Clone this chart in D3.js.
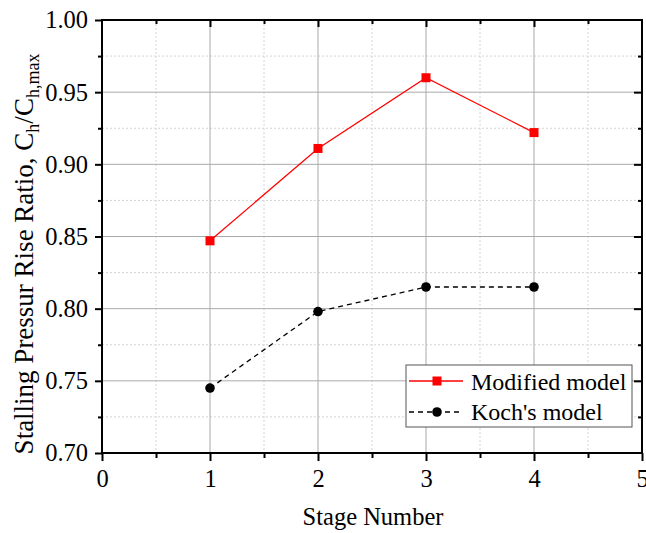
<!DOCTYPE html>
<html>
<head>
<meta charset="utf-8">
<script src="https://cdn.jsdelivr.net/npm/d3@7"></script>
<style>
  body { margin: 0; background: #fff; }
</style>
</head>
<body>
<svg id="chart" width="646" height="533" font-family="Liberation Serif"></svg>
<script>
// Stage numbers and stalling pressure rise ratios for the two models
const stages = [1, 2, 3, 4];
const modifiedModel = [0.847, 0.911, 0.960, 0.922];
const kochModel = [0.745, 0.798, 0.815, 0.815];
const xTicks = [0, 1, 2, 3, 4, 5];
const yTicks = [0.70, 0.75, 0.80, 0.85, 0.90, 0.95, 1.00];
const seriesNames = ["Modified model", "Koch's model"];

const FONT = "Liberation Serif";
const svg = d3.select("#chart");
const m = { left: 102, right: 642, top: 20, bottom: 453 };

const x = d3.scaleLinear().domain([0, 5]).range([m.left, m.right]);
const y = d3.scaleLinear().domain([0.70, 1.00]).range([m.bottom, m.top]);

const xMinor = d3.range(0.5, 5, 1);
const yMinor = d3.range(0.725, 1.0, 0.05);

// grid: dotted minor, solid major
const grid = svg.append("g");
xMinor.forEach(v => grid.append("line")
  .attr("x1", x(v)).attr("x2", x(v)).attr("y1", m.top).attr("y2", m.bottom)
  .attr("stroke", "#d4d4d4").attr("stroke-dasharray", "2,2"));
yMinor.forEach(v => grid.append("line")
  .attr("x1", m.left).attr("x2", m.right).attr("y1", y(v)).attr("y2", y(v))
  .attr("stroke", "#d4d4d4").attr("stroke-dasharray", "2,2"));
xTicks.slice(1, -1).forEach(v => grid.append("line")
  .attr("x1", x(v)).attr("x2", x(v)).attr("y1", m.top).attr("y2", m.bottom)
  .attr("stroke", "#aaaaaa").attr("stroke-width", 1));
yTicks.slice(1, -1).forEach(v => grid.append("line")
  .attr("x1", m.left).attr("x2", m.right).attr("y1", y(v)).attr("y2", y(v))
  .attr("stroke", "#aaaaaa").attr("stroke-width", 1));

// bottom axis (outward ticks) with labels
const xAxis = svg.append("g").attr("transform", `translate(0,${m.bottom})`)
  .call(d3.axisBottom(x).tickValues(xTicks).tickFormat(d3.format("d")).tickSize(8).tickSizeOuter(0));
xAxis.attr("font-family", FONT);
xAxis.select(".domain").remove();
xAxis.selectAll(".tick line").attr("stroke-width", 2);
xAxis.selectAll(".tick text").attr("font-size", 24.5).attr("font-family", FONT)
  .attr("fill", "#000").attr("dy", null).attr("y", 34);
svg.append("g").attr("transform", `translate(0,${m.bottom})`)
  .call(d3.axisBottom(x).tickValues(xMinor).tickFormat("").tickSize(5).tickSizeOuter(0))
  .call(g => { g.select(".domain").remove(); g.selectAll("line").attr("stroke-width", 2); });

// left axis (outward ticks)
const yAxis = svg.append("g").attr("transform", `translate(${m.left},0)`)
  .call(d3.axisLeft(y).tickValues(yTicks).tickFormat(d3.format(".2f")).tickSize(7).tickSizeOuter(0));
yAxis.attr("font-family", FONT);
yAxis.select(".domain").remove();
yAxis.selectAll(".tick line").attr("stroke-width", 2);
yAxis.selectAll(".tick text").attr("font-size", 24.5).attr("font-family", FONT)
  .attr("fill", "#000").attr("x", -14);
svg.append("g").attr("transform", `translate(${m.left},0)`)
  .call(d3.axisLeft(y).tickValues(yMinor).tickFormat("").tickSize(4).tickSizeOuter(0))
  .call(g => { g.select(".domain").remove(); g.selectAll("line").attr("stroke-width", 2); });

// top axis (inward ticks)
svg.append("g").attr("transform", `translate(0,${m.top})`)
  .call(d3.axisBottom(x).tickValues(xTicks.slice(1, -1)).tickFormat("").tickSize(7).tickSizeOuter(0))
  .call(g => { g.select(".domain").remove(); g.selectAll("line").attr("stroke-width", 2); });
svg.append("g").attr("transform", `translate(0,${m.top})`)
  .call(d3.axisBottom(x).tickValues(xMinor).tickFormat("").tickSize(4).tickSizeOuter(0))
  .call(g => { g.select(".domain").remove(); g.selectAll("line").attr("stroke-width", 2); });

// right axis (inward ticks)
svg.append("g").attr("transform", `translate(${m.right},0)`)
  .call(d3.axisLeft(y).tickValues(yTicks.slice(1, -1)).tickFormat("").tickSize(8).tickSizeOuter(0))
  .call(g => { g.select(".domain").remove(); g.selectAll("line").attr("stroke-width", 2); });
svg.append("g").attr("transform", `translate(${m.right},0)`)
  .call(d3.axisLeft(y).tickValues(yMinor).tickFormat("").tickSize(4).tickSizeOuter(0))
  .call(g => { g.select(".domain").remove(); g.selectAll("line").attr("stroke-width", 2); });

// frame
svg.append("rect").attr("x", m.left).attr("y", m.top)
  .attr("width", m.right - m.left).attr("height", m.bottom - m.top)
  .attr("fill", "none").attr("stroke", "#000").attr("stroke-width", 2);

// series
const line = d3.line().x((d, i) => x(stages[i])).y(d => y(d));
svg.append("path").datum(modifiedModel).attr("d", line)
  .attr("fill", "none").attr("stroke", "#ff0000").attr("stroke-width", 1.3);
svg.append("path").datum(kochModel).attr("d", line)
  .attr("fill", "none").attr("stroke", "#000").attr("stroke-width", 1.3)
  .attr("stroke-dasharray", "5,4");

svg.selectAll(".sq").data(modifiedModel).enter().append("rect")
  .attr("x", (d, i) => x(stages[i]) - 4.5).attr("y", d => y(d) - 4.5)
  .attr("width", 9).attr("height", 9).attr("fill", "#ff0000");
svg.selectAll(".dot").data(kochModel).enter().append("circle")
  .attr("cx", (d, i) => x(stages[i])).attr("cy", d => y(d)).attr("r", 4.8)
  .attr("fill", "#000");

// legend
const lg = svg.append("g");
lg.append("rect").attr("x", 406).attr("y", 365).attr("width", 226).attr("height", 62)
  .attr("fill", "#fff").attr("stroke", "#555").attr("stroke-width", 1);
lg.append("line").attr("x1", 409).attr("x2", 463).attr("y1", 381).attr("y2", 381)
  .attr("stroke", "#ff0000").attr("stroke-width", 1.3);
lg.append("rect").attr("x", 432.5).attr("y", 376.5).attr("width", 9).attr("height", 9).attr("fill", "#ff0000");
lg.append("line").attr("x1", 409).attr("x2", 463).attr("y1", 412).attr("y2", 412)
  .attr("stroke", "#000").attr("stroke-width", 1.3).attr("stroke-dasharray", "5,4");
lg.append("circle").attr("cx", 437).attr("cy", 412).attr("r", 4.8).attr("fill", "#000");
lg.append("text").attr("x", 471).attr("y", 390).attr("font-size", 24).attr("font-family", FONT).text(seriesNames[0]);
lg.append("text").attr("x", 471).attr("y", 420).attr("font-size", 24).attr("font-family", FONT).text(seriesNames[1]);

// axis titles
svg.append("text").attr("x", 373).attr("y", 525)
  .attr("text-anchor", "middle").attr("font-size", 24.5).attr("font-family", FONT).text("Stage Number");

const yt = svg.append("text").attr("transform", "translate(33,254) rotate(-90)")
  .attr("text-anchor", "middle").attr("font-size", 27).attr("font-family", FONT);
yt.append("tspan").text("Stalling Pressur Rise Ratio, C");
yt.append("tspan").attr("font-size", 18).attr("dy", 6).text("h");
yt.append("tspan").attr("dy", -6).text("/C");
yt.append("tspan").attr("font-size", 18).attr("dy", 6).text("h,max");
</script>
</body>
</html>
